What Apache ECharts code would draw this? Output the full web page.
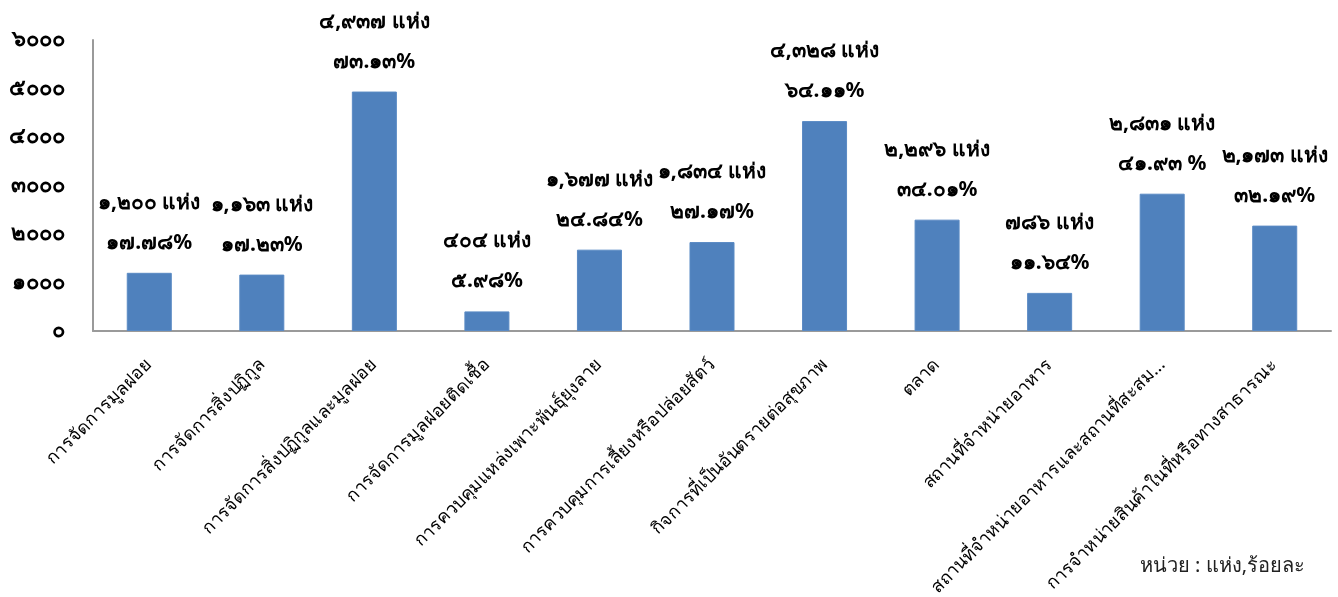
<!DOCTYPE html>
<html>
<head>
<meta charset="utf-8">
<script src="https://cdn.jsdelivr.net/npm/echarts@6/dist/echarts.min.js"></script>
<style>
html,body{margin:0;padding:0;background:#fff;}
#c{width:1338px;height:597px;}
</style>
</head>
<body>
<div id="c"></div>
<script>
var categories = [
  'การจัดการมูลฝอย',
  'การจัดการสิ่งปฏิกูล',
  'การจัดการสิ่งปฏิกูลและมูลฝอย',
  'การจัดการมูลฝอยติดเชื้อ',
  'การควบคุมแหล่งเพาะพันธุ์ยุงลาย',
  'การควบคุมการเลี้ยงหรือปล่อยสัตว์',
  'กิจการที่เป็นอันตรายต่อสุขภาพ',
  'ตลาด',
  'สถานที่จำหน่ายอาหาร',
  'สถานที่จำหน่ายอาหารและสถานที่สะสม...',
  'การจำหน่ายสินค้าในที่หรือทางสาธารณะ'
];
var counts = [1200, 1163, 4937, 404, 1677, 1834, 4328, 2296, 786, 2831, 2173];
var percentLabels = ['17.78%', '17.23%', '73.13%', '5.98%', '24.84%', '27.17%', '64.11%', '34.01%', '11.64%', '41.93 %', '32.19%'];
var yTicks = [0, 1000, 2000, 3000, 4000, 5000, 6000];
var unitText = 'หน่วย : แห่ง,ร้อยละ';
var countUnit = 'แห่ง';
var thaiDigits = ['๐','๑','๒','๓','๔','๕','๖','๗','๘','๙'];

function toThai(s) {
  return String(s).replace(/[0-9]/g, function (d) { return thaiDigits[+d]; });
}
function withComma(n) {
  return String(n).replace(/\B(?=(\d{3})+(?!\d))/g, ',');
}

var FONT = '"Noto Sans", "DejaVu Sans", sans-serif';
var chart = echarts.init(document.getElementById('c'));
chart.setOption({
  animation: false,
  backgroundColor: '#ffffff',
  grid: { left: 93, right: 7, top: 40, bottom: 266, containLabel: false, outerBoundsMode: 'none' },
  xAxis: {
    type: 'category',
    data: categories,
    axisLine: { show: true, lineStyle: { color: '#9a9a9a', width: 2 } },
    axisTick: { show: false },
    axisLabel: {
      interval: 0,
      rotate: 45,
      margin: 31,
      fontSize: 18,
      color: '#000',
      fontFamily: FONT
    }
  },
  yAxis: {
    type: 'value',
    min: yTicks[0],
    max: yTicks[yTicks.length - 1],
    interval: yTicks[1] - yTicks[0],
    splitLine: { show: false },
    axisLine: { show: true, lineStyle: { color: '#9a9a9a', width: 2 } },
    axisTick: { show: false },
    axisLabel: {
      margin: 28,
      fontSize: 22,
      fontWeight: 'bold',
      color: '#000',
      fontFamily: FONT,
      formatter: function (v) { return toThai(v); }
    }
  },
  series: [{
    type: 'bar',
    data: counts,
    barWidth: '40%',
    itemStyle: { color: '#4F81BD', borderColor: '#5a8ac4', borderWidth: 1 },
    label: {
      show: true,
      position: 'top',
      distance: 10,
      fontSize: 21,
      fontWeight: 'bold',
      color: '#000',
      lineHeight: 40,
      fontFamily: FONT,
      formatter: function (p) {
        return toThai(withComma(counts[p.dataIndex])) + ' ' + countUnit + '\n' + toThai(percentLabels[p.dataIndex]);
      }
    }
  }],
  graphic: [{
    type: 'text',
    right: 33,
    top: 556,
    style: { text: unitText, fontSize: 20, fill: '#222', fontFamily: FONT }
  }]
});
</script>
</body>
</html>
